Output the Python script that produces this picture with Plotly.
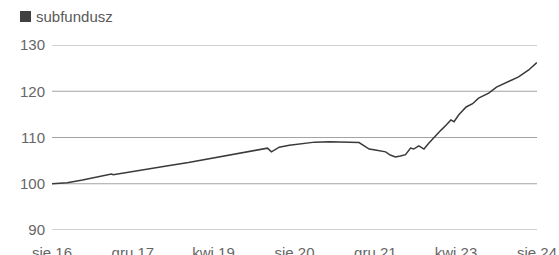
import plotly.graph_objects as go

# Data
dates = [
    "2016-08-01", "2016-09-15", "2016-11-01", "2017-02-01", "2017-05-01",
    "2017-07-15", "2017-07-25", "2017-08-05", "2017-11-01", "2018-03-01",
    "2018-07-01", "2018-11-01", "2019-02-01", "2019-06-01", "2019-10-01",
    "2020-01-15", "2020-02-20", "2020-03-15", "2020-04-01", "2020-05-01",
    "2020-07-01", "2020-09-01", "2020-12-01", "2021-03-01", "2021-06-01",
    "2021-08-25", "2021-09-25", "2021-10-25", "2021-12-01", "2021-12-25",
    "2022-02-01", "2022-03-01", "2022-04-01", "2022-05-01", "2022-06-01",
    "2022-07-01", "2022-07-20", "2022-08-20", "2022-09-20", "2022-10-20",
    "2022-12-01", "2023-01-01", "2023-02-01", "2023-03-01", "2023-03-20",
    "2023-04-18", "2023-06-01", "2023-07-10", "2023-08-15", "2023-10-15",
    "2023-12-01", "2024-02-01", "2024-04-12", "2024-06-12", "2024-07-31",
]
values = [
    100.0, 100.05, 100.2, 100.8, 101.4,
    101.9, 102.1, 101.95, 102.5, 103.2,
    103.9, 104.6, 105.2, 105.9, 106.7,
    107.5, 107.7, 106.9, 107.2, 107.9,
    108.3, 108.6, 109.0, 109.1, 109.0,
    108.9, 108.2, 107.5, 107.3, 107.1,
    106.9, 106.2, 105.8, 106.0, 106.3,
    107.7, 107.5, 108.2, 107.5, 108.8,
    110.5, 111.6, 112.7, 113.8, 113.4,
    114.9, 116.6, 117.3, 118.5, 119.6,
    120.9, 122.0, 123.1, 124.6, 126.2,
]

tick_dates = ["2016-08-01", "2017-12-01", "2019-04-01", "2020-08-01",
              "2021-12-01", "2023-04-01", "2024-08-01"]
tick_labels = ["sie 16", "gru 17", "kwi 19", "sie 20", "gru 21", "kwi 23", "sie 24"]
y_ticks = [90, 100, 110, 120, 130]
series_name = "subfundusz"

FONT = "Liberation Sans, Arial, sans-serif"
W, H = 559, 255
ML, MR, MT, MB = 52, 22, 45, 25
PW, PH = W - ML - MR, H - MT - MB


def px_x(x):
    return (x - ML) / PW


def px_y(y):
    return (H - MB - y) / PH


fig = go.Figure()
fig.add_trace(go.Scatter(
    x=dates, y=values, mode="lines", name=series_name,
    line=dict(color="#3a3a3a", width=1.5),
    showlegend=False,
))

grid_shapes = [dict(
    type="line", xref="paper", yref="y", x0=0, x1=1, y0=v, y1=v,
    line=dict(color="#a3a3a3", width=1), layer="below",
) for v in y_ticks]

fig.update_layout(
    width=W, height=H,
    margin=dict(l=ML, r=MR, t=MT, b=MB),
    paper_bgcolor="white", plot_bgcolor="white",
    font=dict(family=FONT, size=15, color="#666666"),
    xaxis=dict(
        range=["2016-08-01", "2024-08-01"],
        tickvals=tick_dates, ticktext=tick_labels,
        showgrid=False, zeroline=False, showline=False,
        ticks="outside", ticklen=9, tickcolor="rgba(0,0,0,0)",
        tickfont=dict(size=15, color="#666666"),
        automargin=False,
    ),
    yaxis=dict(
        range=[90, 130], tickvals=y_ticks,
        showgrid=False,
        zeroline=False, showline=False,
        ticks="outside", ticklen=3, tickcolor="rgba(0,0,0,0)",
        tickfont=dict(size=15, color="#666666"),
        automargin=False,
    ),
    shapes=grid_shapes + [dict(
        type="rect", xref="paper", yref="paper",
        x0=px_x(20), x1=px_x(31), y0=px_y(22), y1=px_y(11),
        fillcolor="#404040", line=dict(width=0),
    )],
    annotations=[dict(
        xref="paper", yref="paper",
        x=px_x(34), y=px_y(16.5),
        xanchor="left", yanchor="middle", showarrow=False,
        text=series_name,
        font=dict(family=FONT, size=15, color="#595959"),
    )],
)

fig.write_html("out.html", config={"displayModeBar": False},
               post_script="document.body.style.margin='0';")
